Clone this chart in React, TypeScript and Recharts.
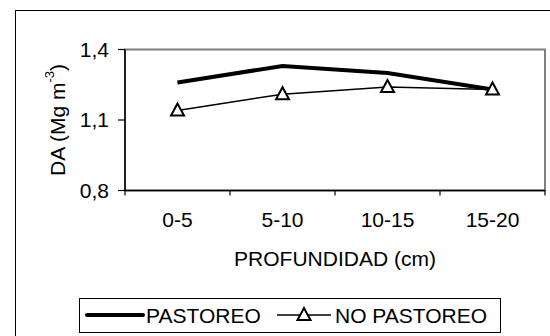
import { Label, Line, LineChart, ReferenceArea, XAxis, YAxis } from "recharts";

const categories = ["0-5", "5-10", "10-15", "15-20"];
const pastoreo = [1.26, 1.33, 1.3, 1.23];
const noPastoreo = [1.14, 1.21, 1.24, 1.23];
const yTicks = [0.8, 1.1, 1.4];
const seriesNames = { pastoreo: "PASTOREO", noPastoreo: "NO PASTOREO" };

const data = categories.map((name, i) => ({
  name,
  pastoreo: pastoreo[i],
  noPastoreo: noPastoreo[i],
}));

const FONT = "'Liberation Sans', Arial, sans-serif";
const FS = 21;
const MARGIN = { top: 49.5, right: 5, left: 65, bottom: 105.5 };

function Triangle(props: any) {
  const { cx, cy } = props;
  if (cx == null || cy == null) return null;
  return (
    <polygon
      points={`${cx},${cy - 7} ${cx - 6.5},${cy + 5} ${cx + 6.5},${cy + 5}`}
      fill="#fff"
      stroke="#000"
      strokeWidth={2}
    />
  );
}

function XTick(props: any) {
  const { x, y, payload, index, visibleTicksCount } = props;
  const half = payload.offset || 0;
  const last = index === visibleTicksCount - 1;
  return (
    <g>
      <line x1={x - half} x2={x - half} y1={y} y2={y + 5} stroke="#000" strokeWidth={1.2} />
      {last && <line x1={x + half} x2={x + half} y1={y} y2={y + 5} stroke="#000" strokeWidth={1.2} />}
      <text x={x} y={y + 22} dy="0.71em" textAnchor="middle" fontSize={FS} fontFamily={FONT} fill="#000">
        {payload.value}
      </text>
    </g>
  );
}

function YTitle(props: any) {
  const vb = props.viewBox;
  const cx = vb.x - 8;
  const cy = vb.y + vb.height / 2;
  return (
    <text
      x={cx}
      y={cy}
      transform={`rotate(-90 ${cx} ${cy})`}
      textAnchor="middle"
      dominantBaseline="central"
      fontSize={FS}
      fontFamily={FONT}
      fill="#000"
    >
      DA (Mg m<tspan dy={-8} fontSize={13}>-3</tspan>
      <tspan dy={8}>)</tspan>
    </text>
  );
}

function XTitle(props: any) {
  const vb = props.viewBox;
  return (
    <text
      x={vb.x + vb.width / 2}
      y={vb.y + 67.5}
      textAnchor="middle"
      dominantBaseline="central"
      fontSize={FS}
      fontFamily={FONT}
      fill="#000"
    >
      PROFUNDIDAD (cm)
    </text>
  );
}

function LegendBox() {
  return (
    <div
      style={{
        position: "absolute",
        left: 79,
        top: 298,
        width: 422,
        height: 35,
        border: "1px solid #000",
        boxSizing: "border-box",
        background: "#fff",
      }}
    >
      <svg width={420} height={33} style={{ display: "block" }}>
        <line x1={7} x2={63} y1={16} y2={16} stroke="#000" strokeWidth={4} strokeLinecap="round" />
        <text x={66} y={23.5} fontSize={FS} fontFamily={FONT} fill="#000">
          {seriesNames.pastoreo}
        </text>
        <line x1={197} x2={251} y1={16} y2={16} stroke="#000" strokeWidth={1.5} />
        <Triangle cx={224} cy={16} />
        <text x={255} y={23.5} fontSize={FS} fontFamily={FONT} fill="#000">
          {seriesNames.noPastoreo}
        </text>
      </svg>
    </div>
  );
}

export default function App() {
  return (
    <div
      style={{
        position: "fixed",
        left: 0,
        top: 0,
        width: 550,
        height: 336,
        overflow: "hidden",
        background: "#fff",
      }}
    >
      <div
        style={{
          position: "absolute",
          left: 15,
          top: 10,
          width: 600,
          height: 400,
          border: "1px solid #000",
        }}
      />
      {/* grey frame on the right side of the plot */}
      <div
        style={{
          position: "absolute",
          left: 550 - MARGIN.right - 1,
          top: MARGIN.top - 1,
          width: 2,
          height: 336 - MARGIN.top - MARGIN.bottom - 40 + 1,
          background: "#808080",
        }}
      />
      <div style={{ position: "absolute", left: 0, top: 0 }}>
        <LineChart width={550} height={336} data={data} margin={MARGIN}>
          <ReferenceArea
            y1={0.8}
            y2={1.4}
            fill="none"
            fillOpacity={0}
            stroke="#808080"
            strokeWidth={2}
            ifOverflow="visible"
          />
          <XAxis
            dataKey="name"
            scale="band"
            height={40}
            tickSize={0}
            tickMargin={0}
            tickLine={false}
            axisLine={{ stroke: "#000", strokeWidth: 1.5 }}
            tick={<XTick />}
            interval={0}
          >
            <Label content={<XTitle />} />
          </XAxis>
          <YAxis
            width={60}
            domain={[0.8, 1.4]}
            ticks={yTicks}
            allowDataOverflow
            tickSize={7}
            tickMargin={9}
            tickLine={{ stroke: "#000", strokeWidth: 1.2 }}
            axisLine={{ stroke: "#000", strokeWidth: 1.5 }}
            tick={{ fill: "#000", fontSize: FS, fontFamily: FONT }}
            tickFormatter={(v: number) => v.toFixed(1).replace(".", ",")}
          >
            <Label content={<YTitle />} />
          </YAxis>
          <Line
            name={seriesNames.pastoreo}
            dataKey="pastoreo"
            stroke="#000"
            strokeWidth={4}
            dot={false}
            activeDot={false}
            isAnimationActive={false}
          />
          <Line
            name={seriesNames.noPastoreo}
            dataKey="noPastoreo"
            stroke="#000"
            strokeWidth={1.5}
            dot={<Triangle />}
            activeDot={false}
            isAnimationActive={false}
          />
        </LineChart>
      </div>
      <LegendBox />
    </div>
  );
}
